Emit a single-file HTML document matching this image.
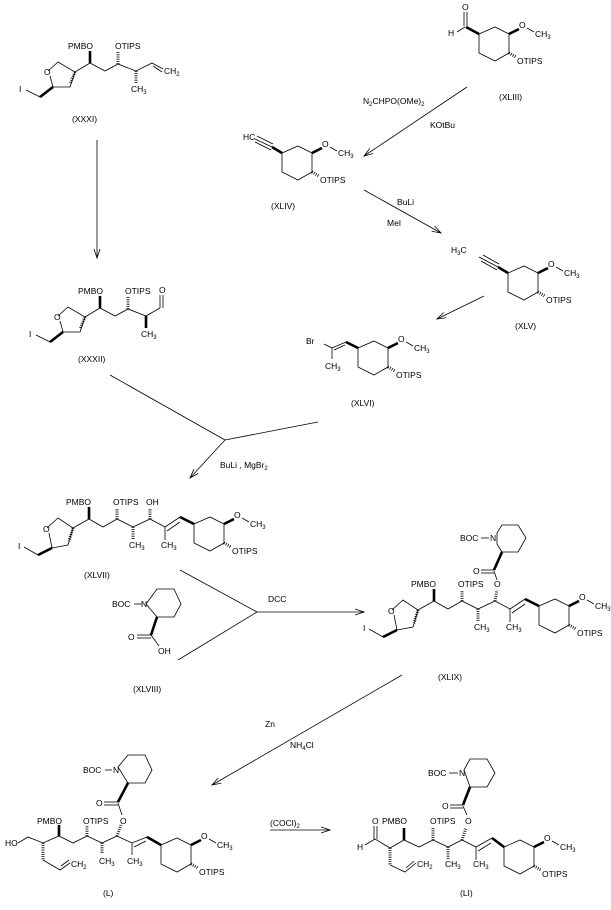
<!DOCTYPE html>
<html><head><meta charset="utf-8"><style>
html,body{margin:0;padding:0;background:#fff}
svg{display:block}
text{font-family:"Liberation Sans",sans-serif;font-size:8.5px;fill:#000}
.s{font-size:6px}
.b{stroke:#000;stroke-width:0.8;fill:none}
.w{stroke:#000;stroke-width:2.6;fill:none}
.h{stroke:#000;stroke-width:3;stroke-dasharray:0.8,1.4;fill:none}
</style></head><body>
<svg width="611" height="910" viewBox="0 0 611 910" xmlns="http://www.w3.org/2000/svg">
<defs>
<marker id="ah" markerWidth="10" markerHeight="8" refX="9" refY="4" orient="auto" markerUnits="userSpaceOnUse">
<path d="M0,1 L9,4 L0,7" fill="none" stroke="#000" stroke-width="0.8"/>
</marker>
</defs>

<!-- arrows -->
<line class="b" x1="97" y1="140" x2="97" y2="258" marker-end="url(#ah)"/>
<line class="b" x1="467" y1="87" x2="364" y2="156" marker-end="url(#ah)"/>
<text x="363" y="104">N<tspan class="s" dy="2">2</tspan><tspan dy="-2">CHPO(OMe)</tspan><tspan class="s" dy="2">2</tspan></text>
<text x="430" y="128">KOtBu</text>
<line class="b" x1="364" y1="190" x2="441" y2="233" marker-end="url(#ah)"/>
<text x="397" y="205">BuLi</text>
<text x="387" y="226">MeI</text>
<line class="b" x1="484" y1="296" x2="437" y2="319" marker-end="url(#ah)"/>
<line class="b" x1="110" y1="375" x2="225" y2="440"/>
<line class="b" x1="318" y1="422" x2="225" y2="440"/>
<line class="b" x1="225" y1="440" x2="190" y2="478" marker-end="url(#ah)"/>
<text x="220" y="468">BuLi , MgBr<tspan class="s" dy="2">2</tspan></text>
<line class="b" x1="180" y1="570" x2="257" y2="612"/>
<line class="b" x1="178" y1="660" x2="257" y2="612"/>
<line class="b" x1="257" y1="612" x2="364" y2="612" marker-end="url(#ah)"/>
<text x="268" y="602">DCC</text>
<line class="b" x1="402" y1="675" x2="212" y2="785" marker-end="url(#ah)"/>
<text x="265" y="727">Zn</text>
<text x="290" y="748">NH<tspan class="s" dy="2">4</tspan><tspan dy="-2">Cl</tspan></text>
<line class="b" x1="270" y1="830" x2="330" y2="830" marker-end="url(#ah)"/>
<text x="270" y="826">(COCl)<tspan class="s" dy="2">2</tspan></text>

<!-- XXXI -->
<g>
<polyline class="b" points="48,71 58,62 75,72 70,87 53,87"/>
<line class="b" x1="53" y1="87" x2="50" y2="76"/>
<line class="w" x1="53" y1="87" x2="40" y2="97"/>
<line class="b" x1="40" y1="97" x2="26" y2="90"/>
<text x="19" y="92">I</text>
<text x="44" y="75">O</text>
<polyline class="b" points="75,72 90,63 105,71 118,64 136,71 152,63 163,69"/>
<line class="b" x1="153" y1="66" x2="162" y2="72"/>
<text x="164" y="74">CH<tspan class="s" dy="2">2</tspan></text>
<line class="h" x1="75" y1="72" x2="70" y2="84"/>
<line class="w" x1="90" y1="63" x2="90" y2="51"/>
<text x="68" y="49">PMBO</text>
<line class="h" x1="118" y1="64" x2="118" y2="52"/>
<text x="115" y="49">OTIPS</text>
<line class="h" x1="136" y1="71" x2="136" y2="83"/>
<text x="131" y="92">CH<tspan class="s" dy="2">3</tspan></text>
<text x="72" y="122">(XXXI)</text>
</g>

<!-- XXXII -->
<g transform="translate(10,245)">
<polyline class="b" points="48,71 58,62 75,72 70,87 53,87"/>
<line class="b" x1="53" y1="87" x2="50" y2="76"/>
<line class="w" x1="53" y1="87" x2="40" y2="97"/>
<line class="b" x1="40" y1="97" x2="26" y2="90"/>
<text x="19" y="92">I</text>
<text x="44" y="75">O</text>
<polyline class="b" points="75,72 90,63 105,71 118,64 136,71 150,63"/>
<line class="b" x1="150" y1="63" x2="150" y2="50"/>
<line class="b" x1="153" y1="63" x2="153" y2="50"/>
<text x="149" y="48">O</text>
<line class="h" x1="75" y1="72" x2="70" y2="84"/>
<line class="w" x1="90" y1="63" x2="90" y2="51"/>
<text x="68" y="49">PMBO</text>
<line class="h" x1="118" y1="64" x2="118" y2="52"/>
<text x="115" y="49">OTIPS</text>
<line class="w" x1="136" y1="71" x2="136" y2="83"/>
<text x="131" y="92">CH<tspan class="s" dy="2">3</tspan></text>
<text x="68" y="117">(XXXII)</text>
</g>

<!-- XLIII -->
<g transform="translate(479,34)">
<polygon class="b" points="0,0 16,-7 30,0 30,19 16,27 0,19"/>
<line class="w" x1="30" y1="0" x2="40" y2="-5"/>
<line class="b" x1="48" y1="-6" x2="55" y2="-2"/>
<text x="40" y="-6">O</text>
<text x="56" y="3">CH<tspan class="s" dy="2">3</tspan></text>
<line class="h" x1="30" y1="19" x2="37" y2="23"/>
<text x="38" y="30">OTIPS</text>
<line class="w" x1="0" y1="0" x2="-13" y2="-7"/>
<line class="b" x1="-15" y1="-8" x2="-15" y2="-22"/>
<line class="b" x1="-12" y1="-8" x2="-12" y2="-22"/>
<text x="-17" y="-24">O</text>
<line class="b" x1="-14" y1="-7" x2="-22" y2="-2"/>
<text x="-31" y="2">H</text>
<text x="20" y="66">(XLIII)</text>
</g>

<!-- XLIV -->
<g transform="translate(282,153)">
<polygon class="b" points="0,0 16,-7 30,0 30,19 16,27 0,19"/>
<line class="w" x1="30" y1="0" x2="40" y2="-5"/>
<line class="b" x1="48" y1="-6" x2="55" y2="-2"/>
<text x="40" y="-6">O</text>
<text x="56" y="3">CH<tspan class="s" dy="2">3</tspan></text>
<line class="h" x1="30" y1="19" x2="37" y2="23"/>
<text x="38" y="30">OTIPS</text>
<line class="w" x1="0" y1="0" x2="-10" y2="-6"/>
<line class="b" x1="-10" y1="-6" x2="-27" y2="-14"/>
<line class="b" x1="-11" y1="-3" x2="-27" y2="-11"/>
<line class="b" x1="-9" y1="-9" x2="-25" y2="-17"/>
<text x="-39" y="-13">HC</text>
<text x="-11" y="56">(XLIV)</text>
</g>

<!-- XLV -->
<g transform="translate(508,273)">
<polygon class="b" points="0,0 16,-7 30,0 30,19 16,27 0,19"/>
<line class="w" x1="30" y1="0" x2="40" y2="-5"/>
<line class="b" x1="48" y1="-6" x2="55" y2="-2"/>
<text x="40" y="-6">O</text>
<text x="56" y="3">CH<tspan class="s" dy="2">3</tspan></text>
<line class="h" x1="30" y1="19" x2="37" y2="23"/>
<text x="38" y="30">OTIPS</text>
<line class="w" x1="0" y1="0" x2="-10" y2="-6"/>
<line class="b" x1="-10" y1="-6" x2="-29" y2="-16"/>
<line class="b" x1="-11" y1="-3" x2="-27" y2="-12"/>
<line class="b" x1="-9" y1="-9" x2="-25" y2="-18"/>
<text x="-57" y="-20">H<tspan class="s" dy="2">3</tspan><tspan dy="-2">C</tspan></text>
<text x="7" y="56">(XLV)</text>
</g>

<!-- XLVI -->
<g transform="translate(358,348)">
<polygon class="b" points="0,0 16,-7 30,0 30,19 16,27 0,19"/>
<line class="w" x1="30" y1="0" x2="40" y2="-5"/>
<line class="b" x1="48" y1="-6" x2="55" y2="-2"/>
<text x="40" y="-6">O</text>
<text x="56" y="3">CH<tspan class="s" dy="2">3</tspan></text>
<line class="h" x1="30" y1="19" x2="37" y2="23"/>
<text x="38" y="30">OTIPS</text>
<line class="w" x1="0" y1="0" x2="-12" y2="-6"/>
<line class="b" x1="-12" y1="-6" x2="-26" y2="0"/>
<line class="b" x1="-13" y1="-3" x2="-24" y2="2"/>
<line class="b" x1="-26" y1="0" x2="-34" y2="-4"/>
<line class="b" x1="-26" y1="0" x2="-26" y2="11"/>
<text x="-52" y="-4">Br</text>
<text x="-33" y="21">CH<tspan class="s" dy="2">3</tspan></text>
<text x="-7" y="58">(XLVI)</text>
</g>

<!-- XLVII -->
<g>
<polyline class="b" points="47,528 58,518 73,528 68,545 52,548"/>
<line class="b" x1="52" y1="548" x2="49" y2="533"/>
<text x="43" y="532">O</text>
<line class="w" x1="52" y1="548" x2="38" y2="555"/>
<line class="b" x1="38" y1="555" x2="24" y2="547"/>
<text x="18" y="549">I</text>
<line class="h" x1="73" y1="528" x2="69" y2="541"/>
<polyline class="b" points="73,528 89,519 103,527 117,519 133,527 150,519 165,527 180,517"/>
<line class="b" x1="167" y1="531" x2="180" y2="522"/>
<line class="w" x1="180" y1="517" x2="194" y2="524"/>
<line class="w" x1="89" y1="519" x2="89" y2="507"/>
<text x="66" y="505">PMBO</text>
<line class="h" x1="117" y1="519" x2="117" y2="508"/>
<text x="113" y="505">OTIPS</text>
<line class="h" x1="150" y1="519" x2="150" y2="508"/>
<text x="146" y="505">OH</text>
<line class="h" x1="133" y1="527" x2="133" y2="539"/>
<text x="129" y="548">CH<tspan class="s" dy="2">3</tspan></text>
<line class="b" x1="165" y1="527" x2="165" y2="540"/>
<text x="161" y="548">CH<tspan class="s" dy="2">3</tspan></text>
<g transform="translate(194,524)">
<polygon class="b" points="0,0 16,-7 30,0 30,19 16,27 0,19"/>
<line class="w" x1="30" y1="0" x2="40" y2="-5"/>
<line class="b" x1="48" y1="-6" x2="55" y2="-2"/>
<text x="40" y="-6">O</text>
<text x="56" y="3">CH<tspan class="s" dy="2">3</tspan></text>
<line class="h" x1="30" y1="19" x2="37" y2="23"/>
<text x="38" y="30">OTIPS</text>
</g>
<text x="84" y="578">(XLVII)</text>
</g>

<!-- XLVIII -->
<g transform="translate(29,-166)">
<polygon class="b" points="117,770 128,755 145,755 152,770 145,783 128,783"/>
<text x="83" y="773">BOC</text>
<line class="b" x1="105" y1="770" x2="113" y2="770"/>
<text x="114" y="773" style="font-size:0">N</text>
<line class="w" x1="128" y1="783" x2="122" y2="801"/>
<line class="b" x1="122" y1="801" x2="108" y2="801"/>
<line class="b" x1="122" y1="804" x2="108" y2="804"/>
<text x="99" y="806">O</text>
<line class="b" x1="122" y1="801" x2="130" y2="812"/>
<text x="129" y="820">OH</text>
<text x="104" y="858">(XLVIII)</text>
</g>
<text x="141" y="607">N</text>

<!-- XLIX -->
<g transform="translate(345,82)">
<polyline class="b" points="47,528 58,518 73,528 68,545 52,548"/>
<line class="b" x1="52" y1="548" x2="49" y2="533"/>
<text x="43" y="532">O</text>
<line class="w" x1="52" y1="548" x2="38" y2="555"/>
<line class="b" x1="38" y1="555" x2="24" y2="547"/>
<text x="18" y="549">I</text>
<line class="h" x1="73" y1="528" x2="69" y2="541"/>
<polyline class="b" points="73,528 89,519 103,527 117,519 133,527 150,519 165,527 180,517"/>
<line class="b" x1="167" y1="531" x2="180" y2="522"/>
<line class="w" x1="180" y1="517" x2="194" y2="524"/>
<line class="w" x1="89" y1="519" x2="89" y2="507"/>
<text x="66" y="505">PMBO</text>
<line class="h" x1="117" y1="519" x2="117" y2="508"/>
<text x="113" y="505">OTIPS</text>
<line class="h" x1="150" y1="519" x2="152" y2="508"/>
<text x="149" y="505">O</text>
<line class="h" x1="133" y1="527" x2="133" y2="539"/>
<text x="129" y="548">CH<tspan class="s" dy="2">3</tspan></text>
<line class="b" x1="165" y1="527" x2="165" y2="540"/>
<text x="161" y="548">CH<tspan class="s" dy="2">3</tspan></text>
<g transform="translate(194,524)">
<polygon class="b" points="0,0 16,-7 30,0 30,19 16,27 0,19"/>
<line class="w" x1="30" y1="0" x2="40" y2="-5"/>
<line class="b" x1="48" y1="-6" x2="55" y2="-2"/>
<text x="40" y="-6">O</text>
<text x="56" y="3">CH<tspan class="s" dy="2">3</tspan></text>
<line class="h" x1="30" y1="19" x2="37" y2="23"/>
<text x="38" y="30">OTIPS</text>
</g>
<text x="93" y="598">(XLIX)</text>
</g>
<g>
<polygon class="b" points="497,533 502,525 518,525 526,538 518,552 502,552 497,544"/>
<text x="460" y="541">BOC</text>
<line class="b" x1="481" y1="538" x2="489" y2="538"/>
<text x="490" y="541">N</text>
<line class="w" x1="502" y1="552" x2="494" y2="570"/>
<line class="b" x1="494" y1="570" x2="481" y2="570"/>
<line class="b" x1="494" y1="573" x2="481" y2="573"/>
<text x="473" y="574">O</text>
<line class="b" x1="494" y1="571" x2="497" y2="580"/>
</g>

<!-- L -->
<g>
<text x="5" y="846">HO</text>
<polyline class="b" points="18,843 28,837 43,843 59,836 73,843 87,836 102,843 117,836 132,843 147,837"/>
<line class="b" x1="134" y1="847" x2="146" y2="841"/>
<line class="w" x1="147" y1="837" x2="161" y2="845"/>
<line class="w" x1="59" y1="836" x2="59" y2="825"/>
<text x="37" y="824">PMBO</text>
<line class="h" x1="87" y1="836" x2="87" y2="825"/>
<text x="83" y="824">OTIPS</text>
<line class="h" x1="117" y1="836" x2="121" y2="825"/>
<text x="120" y="824">O</text>
<line class="h" x1="102" y1="843" x2="102" y2="854"/>
<text x="99" y="864">CH<tspan class="s" dy="2">3</tspan></text>
<line class="b" x1="132" y1="843" x2="132" y2="855"/>
<text x="127" y="864">CH<tspan class="s" dy="2">3</tspan></text>
<line class="h" x1="43" y1="843" x2="43" y2="860"/>
<polyline class="b" points="43,860 60,870 70,863"/>
<line class="b" x1="61" y1="866" x2="69" y2="860"/>
<text x="71" y="867">CH<tspan class="s" dy="2">2</tspan></text>
<polygon class="b" points="118,767 128,755 145,755 152,770 145,783 128,783"/>
<text x="83" y="773">BOC</text>
<line class="b" x1="105" y1="770" x2="112" y2="770"/>
<text x="113" y="773">N</text>
<line class="w" x1="128" y1="783" x2="118" y2="802"/>
<line class="b" x1="118" y1="802" x2="104" y2="802"/>
<line class="b" x1="118" y1="805" x2="104" y2="805"/>
<text x="96" y="806">O</text>
<line class="b" x1="118" y1="803" x2="122" y2="815"/>
<g transform="translate(161,845)">
<polygon class="b" points="0,0 16,-7 30,0 30,19 16,27 0,19"/>
<line class="w" x1="30" y1="0" x2="40" y2="-5"/>
<line class="b" x1="48" y1="-6" x2="55" y2="-2"/>
<text x="40" y="-6">O</text>
<text x="56" y="3">CH<tspan class="s" dy="2">3</tspan></text>
<line class="h" x1="30" y1="19" x2="37" y2="23"/>
<text x="38" y="30">OTIPS</text>
</g>
<text x="103" y="896">(L)</text>
</g>

<!-- LI -->
<g>
<line class="b" x1="374" y1="839" x2="374" y2="826"/>
<line class="b" x1="377" y1="839" x2="377" y2="826"/>
<text x="372" y="824">O</text>
<line class="b" x1="375" y1="839" x2="365" y2="845"/>
<text x="357" y="850">H</text>
<polyline class="b" points="375,839 390,848 404,840 419,847 433,840 448,847 462,840 476,847 492,838"/>
<line class="b" x1="478" y1="851" x2="491" y2="843"/>
<line class="w" x1="492" y1="838" x2="504" y2="847"/>
<line class="w" x1="404" y1="840" x2="404" y2="828"/>
<text x="382" y="824">PMBO</text>
<line class="h" x1="433" y1="840" x2="433" y2="828"/>
<text x="430" y="824">OTIPS</text>
<line class="h" x1="462" y1="840" x2="466" y2="828"/>
<text x="465" y="824">O</text>
<line class="h" x1="448" y1="847" x2="448" y2="859"/>
<text x="445" y="867">CH<tspan class="s" dy="2">3</tspan></text>
<line class="b" x1="476" y1="847" x2="476" y2="860"/>
<text x="473" y="867">CH<tspan class="s" dy="2">3</tspan></text>
<line class="h" x1="390" y1="848" x2="390" y2="865"/>
<polyline class="b" points="390,865 405,872 416,863"/>
<line class="b" x1="406" y1="868" x2="414" y2="861"/>
<text x="417" y="867">CH<tspan class="s" dy="2">2</tspan></text>
<polygon class="b" points="464,770 470,759 487,759 495,773 487,787 470,787"/>
<text x="428" y="776">BOC</text>
<line class="b" x1="449" y1="773" x2="458" y2="773"/>
<text x="459" y="776">N</text>
<line class="w" x1="470" y1="787" x2="463" y2="805"/>
<line class="b" x1="463" y1="805" x2="450" y2="805"/>
<line class="b" x1="463" y1="808" x2="450" y2="808"/>
<text x="442" y="809">O</text>
<line class="b" x1="463" y1="806" x2="467" y2="815"/>
<g transform="translate(504,847)">
<polygon class="b" points="0,0 16,-7 30,0 30,19 16,27 0,19"/>
<line class="w" x1="30" y1="0" x2="40" y2="-5"/>
<line class="b" x1="48" y1="-6" x2="55" y2="-2"/>
<text x="40" y="-6">O</text>
<text x="56" y="3">CH<tspan class="s" dy="2">3</tspan></text>
<line class="h" x1="30" y1="19" x2="37" y2="23"/>
<text x="38" y="30">OTIPS</text>
</g>
<text x="460" y="896">(LI)</text>
</g>
</svg>
</body></html>
